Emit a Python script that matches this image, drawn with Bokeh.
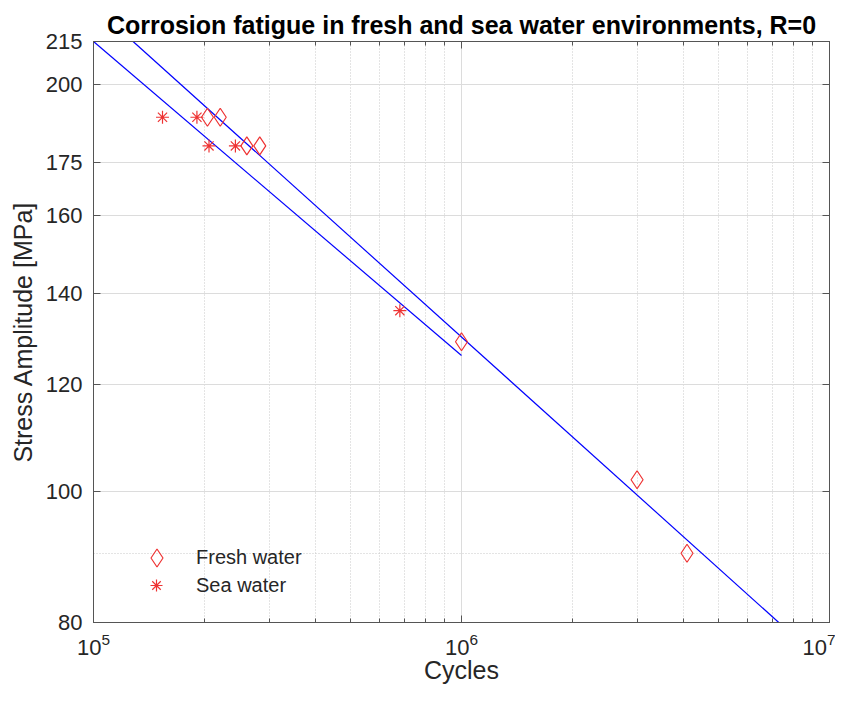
from bokeh.plotting import figure
from bokeh.models import FixedTicker, LogAxis, LogTickFormatter, PrintfTickFormatter, Legend, LegendItem
from bokeh.embed import file_html
from bokeh.resources import INLINE

# ---- data ----
fresh_cycles = [2.04e5, 2.21e5, 2.61e5, 2.83e5, 1.0e6, 3.0e6, 4.1e6]
fresh_stress = [189, 189, 180, 180, 129, 102, 90]
sea_cycles = [1.54e5, 1.91e5, 2.06e5, 2.43e5, 6.8e5]
sea_stress = [189, 189, 180, 180, 136]

fresh_fit_cycles = [1.281e5, 7.28e6]
fresh_fit_stress = [215, 80]
sea_fit_cycles = [1.0e5, 1.0e6]
sea_fit_stress = [215, 126]

x_major = [1e5, 1e6, 1e7]
x_minor = [k * 10 ** e for e in (5, 6) for k in range(2, 10)]
y_major = [80, 100, 120, 140, 160, 175, 200, 215]
y_minor = [90]

FONT = "Liberation Sans"
AX = "#555555"
TXT = "#262626"

p = figure(x_axis_type="log", y_axis_type="log",
           x_range=(1e5, 1e7), y_range=(80, 215),
           width=835, height=686,
           min_border_left=93, min_border_right=6,
           min_border_top=41, min_border_bottom=64,
           output_backend="svg", toolbar_location=None,
           title="Corrosion fatigue in fresh and sea water environments, R=0")

p.title.align = "center"
p.title.text_font = FONT
p.title.text_font_size = "25px"
p.title.text_font_style = "bold"
p.title.text_color = "black"
p.title.standoff = 6

p.background_fill_color = "white"
p.border_fill_color = "white"
p.outline_line_color = AX
p.outline_line_width = 1

xt = FixedTicker(ticks=x_major, minor_ticks=x_minor)
yt = FixedTicker(ticks=y_major, minor_ticks=y_minor)

xa = p.xaxis[0]
xa.ticker = xt
xa.formatter = LogTickFormatter()
ya = p.yaxis[0]
ya.ticker = yt
ya.formatter = PrintfTickFormatter(format="%d")

for ax in (xa, ya):
    ax.axis_line_color = AX
    ax.major_tick_line_color = AX
    ax.minor_tick_line_color = AX
    ax.major_tick_in = 7
    ax.major_tick_out = 0
    ax.minor_tick_in = 4
    ax.minor_tick_out = 0
    ax.major_label_text_font = FONT
    ax.major_label_text_font_size = "22px"
    ax.major_label_text_color = TXT
    ax.axis_label_text_font = FONT
    ax.axis_label_text_font_size = "25px"
    ax.axis_label_text_font_style = "normal"
    ax.axis_label_text_color = TXT
ya.minor_tick_in = 0
xa.axis_label = "Cycles"
ya.axis_label = "Stress Amplitude [MPa]"
xa.major_label_standoff = 10
xa.axis_label_standoff = -2
ya.major_label_standoff = 11
ya.axis_label_standoff = 6

# mirrored axes (box on)
top = LogAxis(ticker=xt, formatter=PrintfTickFormatter(format="%d"),
              major_label_text_font_size="1px", major_label_text_alpha=0,
              axis_line_color=AX,
              major_tick_line_color=AX, minor_tick_line_color=AX,
              major_tick_in=7, major_tick_out=0, minor_tick_in=4, minor_tick_out=0,
              major_label_standoff=0)
right = LogAxis(ticker=yt, formatter=PrintfTickFormatter(format="%d"),
                major_label_text_font_size="1px", major_label_text_alpha=0,
                axis_line_color=AX,
                major_tick_line_color=AX, minor_tick_line_color=AX,
                major_tick_in=7, major_tick_out=0, minor_tick_in=0, minor_tick_out=0,
                major_label_standoff=0)
p.add_layout(top, "above")
p.add_layout(right, "right")

for g in (p.xgrid[0], p.ygrid[0]):
    g.grid_line_color = "#dcdcdc"
    g.grid_line_width = 1
    g.minor_grid_line_color = "#c8c8c8"
    g.minor_grid_line_dash = "1 2"
    g.minor_grid_line_width = 1
p.xgrid[0].ticker = xt
p.ygrid[0].ticker = yt

p.line(fresh_fit_cycles, fresh_fit_stress, line_color="blue", line_width=1.2)
p.line(sea_fit_cycles, sea_fit_stress, line_color="blue", line_width=1.2)

r_f = p.scatter(fresh_cycles, fresh_stress, marker="diamond", size=18,
                fill_color=None, line_color="#ee3333", line_width=1.2)
r_s = p.scatter(sea_cycles, sea_stress, marker="asterisk", size=13,
                line_color="#ee3333", line_width=1.2)

common = dict(border_line_color=None, background_fill_alpha=0, padding=0, margin=0,
              label_text_font=FONT, label_text_font_size="20px",
              label_text_color=TXT, label_height=20)
leg_f = Legend(items=[LegendItem(label="Fresh water", renderers=[r_f])],
               location=(41, 42), glyph_width=45, glyph_height=45,
               label_standoff=17, **common)
leg_s = Legend(items=[LegendItem(label="Sea water", renderers=[r_s])],
               location=(48, 22), glyph_width=30, glyph_height=30,
               label_standoff=25, **common)
p.add_layout(leg_f, "center")
p.add_layout(leg_s, "center")

open("out.html", "w").write(file_html(p, INLINE))
